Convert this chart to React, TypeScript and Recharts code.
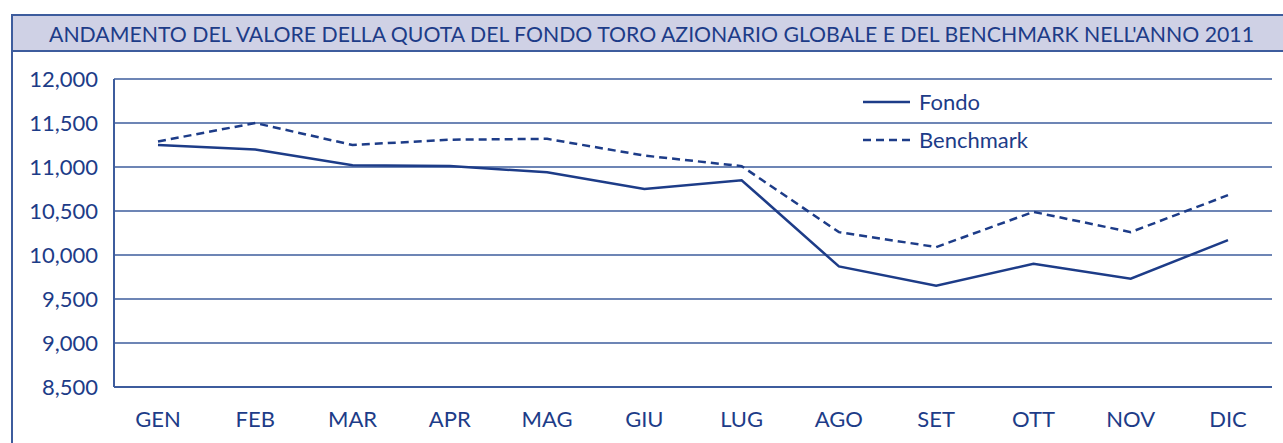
import { LineChart, Line, XAxis, YAxis, CartesianGrid } from 'recharts'

const months = ['GEN', 'FEB', 'MAR', 'APR', 'MAG', 'GIU', 'LUG', 'AGO', 'SET', 'OTT', 'NOV', 'DIC']
const fondo = [11250, 11200, 11020, 11010, 10940, 10750, 10850, 9870, 9650, 9900, 9730, 10170]
const benchmark = [11290, 11500, 11250, 11310, 11320, 11130, 11010, 10260, 10090, 10490, 10260, 10680]
const yTicks = [8500, 9000, 9500, 10000, 10500, 11000, 11500, 12000]

const title = "ANDAMENTO DEL VALORE DELLA QUOTA DEL FONDO TORO AZIONARIO GLOBALE E DEL BENCHMARK NELL'ANNO 2011"

const navy = '#1d3c88'
const frame = '#3d5c9d'
const font = 'Lato, "Open Sans", sans-serif'

const data = months.map((m, i) => ({ month: m, Fondo: fondo[i], Benchmark: benchmark[i] }))

function LegendBox() {
  const rows = [
    { name: 'Fondo', dash: undefined as string | undefined },
    { name: 'Benchmark', dash: '8 5' },
  ]
  return (
    <svg width={200} height={60} style={{ position: 'absolute', left: 863, top: 92, overflow: 'visible' }}>
      {rows.map((r, i) => (
        <g key={r.name} transform={`translate(0, ${i * 38})`}>
          <line x1={0} x2={47} y1={10} y2={10} stroke={navy} strokeWidth={2.5} strokeDasharray={r.dash} />
          <text x={56} y={18} fill={navy} fontSize={22} fontFamily={font}>{r.name}</text>
        </g>
      ))}
    </svg>
  )
}

export default function App() {
  return (
    <div style={{ position: 'absolute', left: 0, top: 0, width: 1283, height: 443, background: '#fff', overflow: 'hidden' }}>
      <div style={{ position: 'absolute', left: 11, top: 14, width: 1270, height: 34, background: '#cfd1e5', borderTop: `2px solid ${frame}`, borderBottom: `2px solid ${frame}`, borderLeft: `2px solid ${frame}` }}>
        <svg width={1270} height={34} style={{ position: 'absolute', left: 0, top: 0 }}>
          <text x={36} y={26} fill={navy} fontSize={21} fontFamily={font} textLength={1205} lengthAdjust="spacingAndGlyphs">{title}</text>
        </svg>
      </div>
      <div style={{ position: 'absolute', left: 11, top: 50, width: 2, height: 400, background: frame }} />
      <div style={{ position: 'absolute', left: 0, top: 0 }}>
        <LineChart width={1283} height={443} data={data} margin={{ top: 79, right: 11, bottom: 0, left: 0 }}>
          <CartesianGrid vertical={false} stroke={frame} strokeWidth={1.5} />
          <XAxis
            dataKey="month"
            height={56}
            padding={{ left: 44, right: 44 }}
            tickLine={false}
            tickMargin={18}
            axisLine={{ stroke: frame, strokeWidth: 2 }}
            tick={{ fill: navy, fontSize: 22, fontFamily: font }}
            interval={0}
          />
          <YAxis
            width={114}
            domain={[8500, 12000]}
            ticks={yTicks}
            tickLine={false}
            tickMargin={10}
            axisLine={{ stroke: frame, strokeWidth: 2 }}
            tick={{ fill: navy, fontSize: 22, fontFamily: font }}
            tickFormatter={(v: number) => v.toLocaleString('en-US')}
          />
          <YAxis yAxisId="right" orientation="right" width={0} tick={false} tickLine={false} axisLine={{ stroke: frame, strokeWidth: 2 }} />
          <Line type="linear" dataKey="Fondo" stroke={navy} strokeWidth={2.5} dot={false} isAnimationActive={false} />
          <Line type="linear" dataKey="Benchmark" stroke={navy} strokeWidth={2.5} strokeDasharray="8 5" dot={false} isAnimationActive={false} />
        </LineChart>
      </div>
      <LegendBox />
    </div>
  )
}
